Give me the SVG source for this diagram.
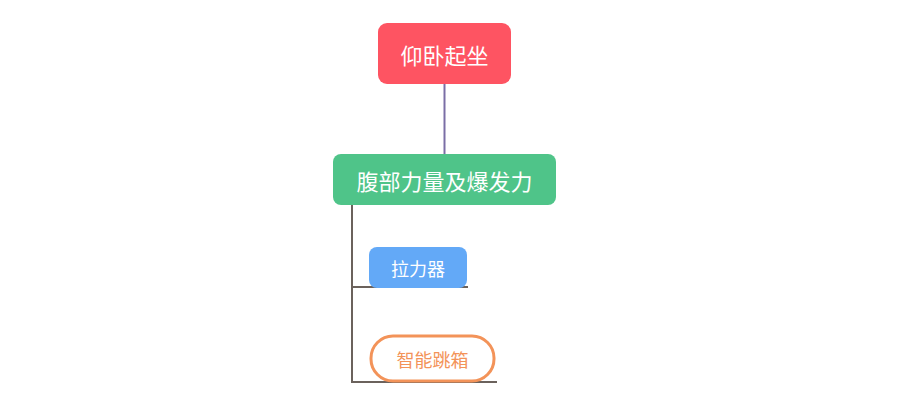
<svg xmlns="http://www.w3.org/2000/svg" width="900" height="414" viewBox="0 0 900 414">
<style>
text{font-family:"Noto Sans CJK SC",sans-serif;text-anchor:middle;dominant-baseline:central}
.w{fill:#fff}
</style>
<rect width="900" height="414" fill="#fff"/>
<g id="connectors" fill="none">
<line x1="444.5" y1="84" x2="444.5" y2="154" stroke="#7b6ea6" stroke-width="2"/>
<path d="M352 205 V382 H497 M352 287 H468" stroke="#6b625c" stroke-width="2"/>
</g>
<g id="n1"><rect x="378" y="23" width="133" height="61" rx="9" fill="#fe5462"/><text class="w" x="444.5" y="54" font-size="22">仰卧起坐</text></g>
<g id="n2"><rect x="333" y="154" width="223" height="51" rx="8" fill="#4fc489"/><text class="w" x="444.5" y="180" font-size="22">腹部力量及爆发力</text></g>
<g id="n3"><rect x="369" y="247" width="98" height="41" rx="8" fill="#63a9f7"/><text class="w" x="418" y="268" font-size="18">拉力器</text></g>
<g id="n4"><rect x="371" y="336" width="123" height="45" rx="22" fill="#fff" stroke="#f39359" stroke-width="3"/><text x="432.5" y="359" font-size="18" fill="#f39359">智能跳箱</text></g>
</svg>
